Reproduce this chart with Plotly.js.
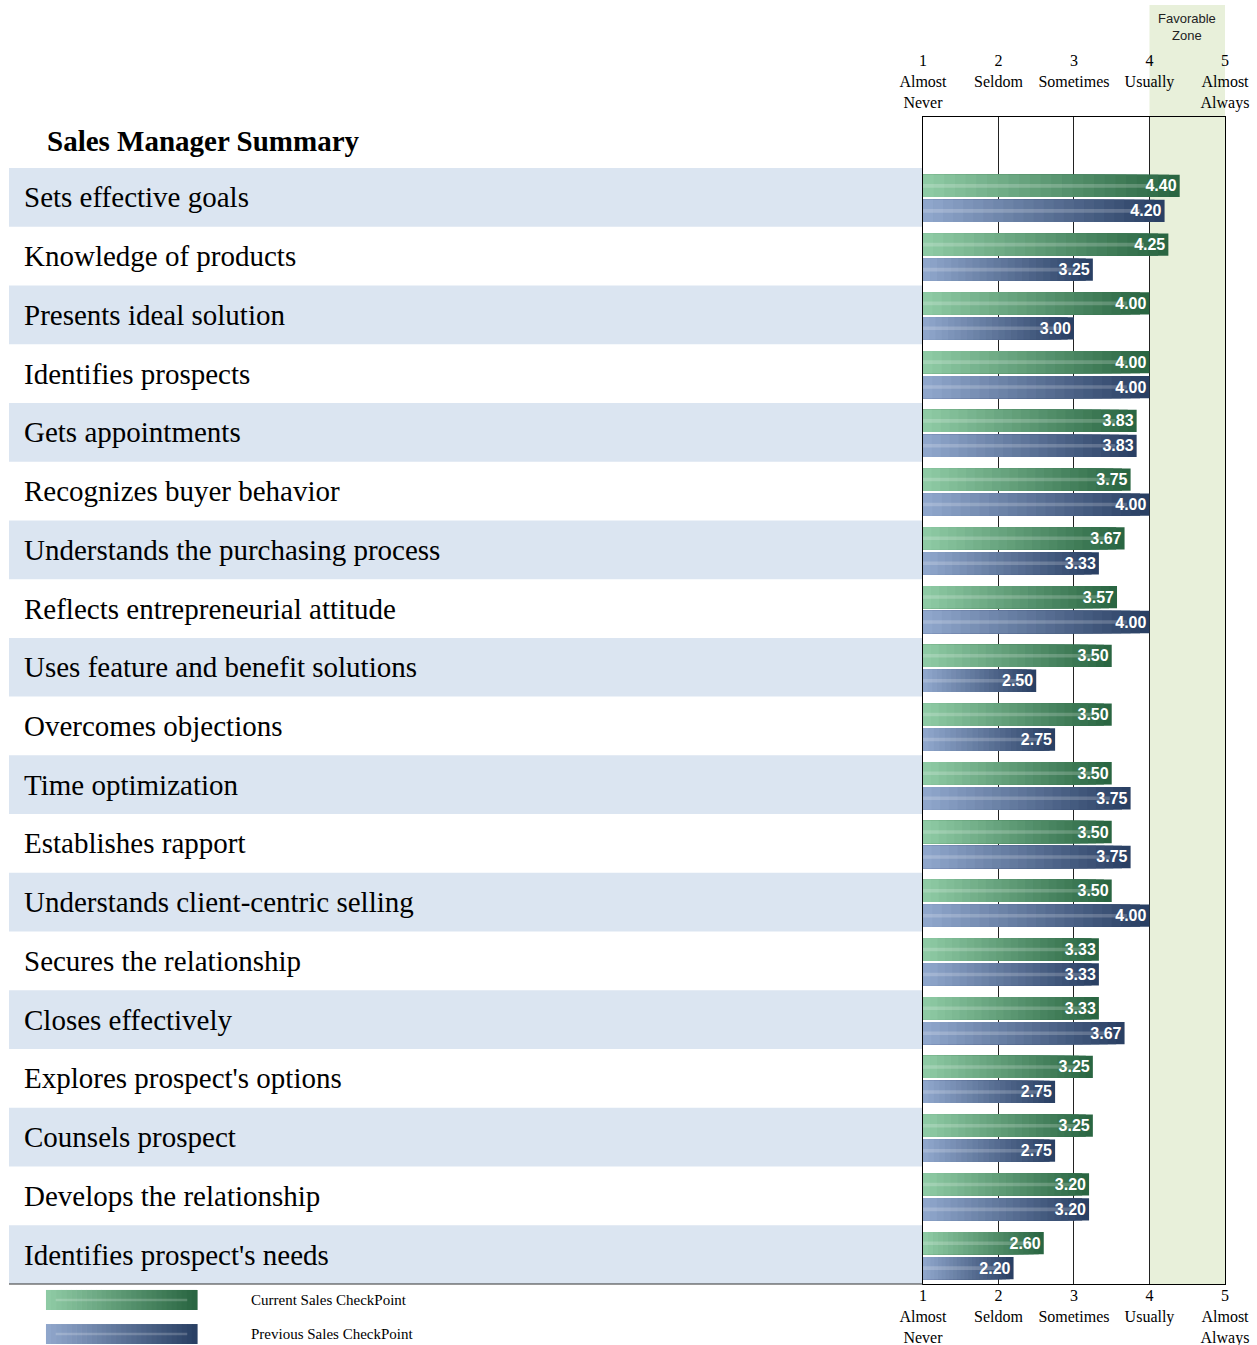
<!DOCTYPE html>
<html>
<head>
<meta charset="utf-8">
<script src="https://cdn.plot.ly/plotly-3.0.1.min.js"></script>
<style>html,body{margin:0;padding:0;background:#fff;}#chart{width:1257px;height:1345px;}</style>
</head>
<body>
<div id="chart"></div>
<script>
// ---------------- DATA ----------------
const categories = [
  "Sets effective goals",
  "Knowledge of products",
  "Presents ideal solution",
  "Identifies prospects",
  "Gets appointments",
  "Recognizes buyer behavior",
  "Understands the purchasing process",
  "Reflects entrepreneurial attitude",
  "Uses feature and benefit solutions",
  "Overcomes objections",
  "Time optimization",
  "Establishes rapport",
  "Understands client-centric selling",
  "Secures the relationship",
  "Closes effectively",
  "Explores prospect's options",
  "Counsels prospect",
  "Develops the relationship",
  "Identifies prospect's needs"
];
const currentValues  = [4.40, 4.25, 4.00, 4.00, 3.83, 3.75, 3.67, 3.57, 3.50, 3.50, 3.50, 3.50, 3.50, 3.33, 3.33, 3.25, 3.25, 3.20, 2.60];
const previousValues = [4.20, 3.25, 3.00, 4.00, 3.83, 4.00, 3.33, 4.00, 2.50, 2.75, 3.75, 3.75, 4.00, 3.33, 3.67, 2.75, 2.75, 3.20, 2.20];
const seriesNames = ["Current Sales CheckPoint", "Previous Sales CheckPoint"];
const tickValues = [1, 2, 3, 4, 5];
const tickLabels = ["1<br>Almost<br>Never", "2<br>Seldom<br>\u00a0", "3<br>Sometimes<br>\u00a0", "4<br>Usually<br>\u00a0", "5<br>Almost<br>Always"];
const chartTitle = "Sales Manager Summary";
const zoneLabel = "Favorable<br>Zone";
const zoneRange = [4, 5];

// ---------------- STYLE ----------------
const SERIF = "Liberation Serif, Times New Roman, serif";
const SANS = "Liberation Sans, Arial, sans-serif";
const DOMAIN_START = 0.7516;
const BAR_W = 0.38;
const STEPS = 24;
const styles = [
  {vals: currentValues, offset: -0.385, light: [142, 202, 164], dark: [42, 102, 66]},
  {vals: previousValues, offset: 0.04, light: [143, 166, 203], dark: [42, 64, 100]}
];
function lerp(a, b, t) {
  return 'rgb(' + a.map((c, i) => Math.round(c + (b[i] - c) * t)).join(',') + ')';
}

const traces = [];
styles.forEach((s, si) => {
  // main bar (full length, darkest) + lighter shorter overlays => left-to-right gradient
  for (let k = 0; k < STEPS; k++) {
    const frac = (STEPS - k) / STEPS;
    traces.push({
      type: 'bar', orientation: 'h',
      name: k === 0 ? seriesNames[si] : seriesNames[si] + ' shade',
      y: categories,
      x: s.vals.map(v => 1 + (v - 1) * frac),
      offset: s.offset, width: BAR_W,
      marker: {color: lerp(s.dark, s.light, k / (STEPS - 1)), line: {width: 0}},
      hoverinfo: k === 0 ? 'x+name' : 'skip',
      showlegend: false
    });
  }
  // central highlight stripe
  traces.push({
    type: 'bar', orientation: 'h', y: categories,
    x: s.vals.map(v => 1 + (v - 1) * 0.9),
    offset: s.offset + BAR_W * 0.42, width: BAR_W * 0.16,
    marker: {color: 'rgba(255,255,255,0.2)', line: {width: 0}},
    hoverinfo: 'skip', showlegend: false
  });
});
// value labels (on the top overlaying axis so that it is drawn)
styles.forEach((s, si) => {
  traces.push({
    type: 'bar', orientation: 'h', y: categories, x: s.vals, xaxis: 'x2',
    offset: s.offset, width: BAR_W,
    marker: {color: 'rgba(0,0,0,0)', line: {width: 0}},
    text: s.vals.map(v => v.toFixed(2)),
    textposition: 'inside', insidetextanchor: 'end', constraintext: 'none',
    textfont: {family: SANS, size: 16, color: '#ffffff', weight: 'bold'},
    hoverinfo: 'skip', showlegend: false
  });
});

// ---------------- SHAPES / ANNOTATIONS ----------------
const shapes = [];
const annotations = [];
categories.forEach((c, i) => {
  if (i % 2 === 0) {
    shapes.push({type: 'rect', xref: 'paper', yref: 'y', x0: 0, x1: DOMAIN_START,
      y0: i - 0.5, y1: i + 0.5, fillcolor: '#dbe5f1', line: {width: 0}, layer: 'below'});
  }
  annotations.push({xref: 'paper', yref: 'y', x: 0.0105, y: c, text: c, showarrow: false,
    xanchor: 'left', yanchor: 'middle', font: {family: SERIF, size: 29, color: '#000'}});
});
shapes.push({type: 'line', xref: 'paper', yref: 'paper', x0: 0, x1: DOMAIN_START, y0: 0, y1: 0,
  line: {color: '#333', width: 1}});
shapes.push({type: 'rect', xref: 'x', yref: 'paper', x0: zoneRange[0], x1: zoneRange[1], y0: 0, y1: 1.096,
  fillcolor: '#e8f0da', line: {width: 0}, layer: 'below'});
annotations.push({xref: 'x', yref: 'paper', x: (zoneRange[0] + zoneRange[1]) / 2, y: 1.077, text: zoneLabel,
  showarrow: false, font: {family: SANS, size: 13, color: '#222'}, xanchor: 'center', yanchor: 'middle'});
annotations.push({xref: 'paper', yref: 'paper', x: 0.0295, y: 0.9794, text: '<b>' + chartTitle + '</b>',
  showarrow: false, xanchor: 'left', yanchor: 'middle', font: {family: SERIF, size: 29, color: '#000'}});
const legendRows = [{y0: -0.0051, y1: -0.0223, ty: -0.0137}, {y0: -0.0343, y1: -0.0514, ty: -0.0428}];
const LX0 = 0.0304, LX1 = 0.1546, LSTEPS = 30;
styles.forEach((s, si) => {
  const r = legendRows[si];
  for (let k = 0; k < LSTEPS; k++) {
    shapes.push({type: 'rect', xref: 'paper', yref: 'paper',
      x0: LX0 + (LX1 - LX0) * k / LSTEPS, x1: LX0 + (LX1 - LX0) * (k + 1) / LSTEPS + 0.0005,
      y0: r.y0, y1: r.y1, fillcolor: lerp(s.light, s.dark, k / (LSTEPS - 1)), line: {width: 0}});
  }
  shapes.push({type: 'rect', xref: 'paper', yref: 'paper', x0: LX0 + 0.008, x1: LX1 - 0.008,
    y0: (r.y0 + r.y1) / 2 + 0.0011, y1: (r.y0 + r.y1) / 2 - 0.0011,
    fillcolor: 'rgba(255,255,255,0.2)', line: {width: 0}});
  annotations.push({xref: 'paper', yref: 'paper', x: 0.1975, y: r.ty, text: seriesNames[si], showarrow: false,
    xanchor: 'left', yanchor: 'middle', font: {family: SERIF, size: 15, color: '#000'}});
});

const axisCommon = {
  range: [1, 5], tickmode: 'array', tickvals: tickValues, ticktext: tickLabels,
  tickfont: {family: SERIF, size: 16, color: '#000'}, ticks: '', zeroline: false
};

const layout = {
  width: 1257, height: 1345,
  margin: {l: 9, r: 32, t: 117, b: 61, pad: 0},
  paper_bgcolor: '#ffffff', plot_bgcolor: 'rgba(0,0,0,0)',
  barmode: 'overlay', showlegend: false,
  xaxis: Object.assign({}, axisCommon, {
    domain: [DOMAIN_START, 1], side: 'bottom', anchor: 'y', ticklabelstandoff: -3,
    showgrid: true, gridcolor: '#222', gridwidth: 1,
    showline: true, linecolor: '#000', linewidth: 1, mirror: true
  }),
  xaxis2: Object.assign({}, axisCommon, {
    domain: [DOMAIN_START, 1], side: 'top', overlaying: 'x', anchor: 'y', matches: 'x',
    showgrid: false, showline: false, ticklabelstandoff: 5
  }),
  yaxis: {
    type: 'category', categoryorder: 'array', categoryarray: categories,
    range: [categories.length - 0.5, -1.368], autorange: false,
    showticklabels: false, showgrid: false, zeroline: false, ticks: '',
    showline: true, linecolor: '#000', linewidth: 1, mirror: true, anchor: 'x'
  },
  shapes: shapes,
  annotations: annotations
};

Plotly.newPlot('chart', traces, layout, {displayModeBar: false, staticPlot: true});
</script>
</body>
</html>
